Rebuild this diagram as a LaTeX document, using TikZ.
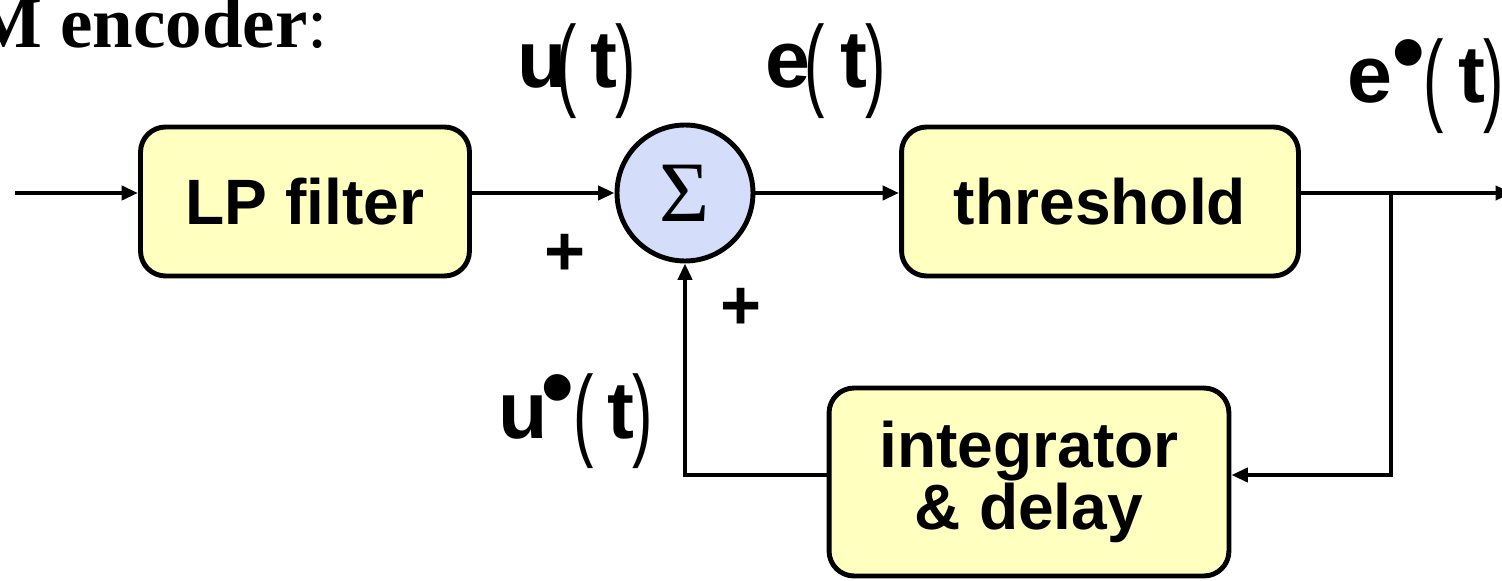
\documentclass[tikz,border=0pt]{standalone}
\usepackage{fontspec}
\setmainfont{Liberation Sans}
\newfontfamily\serifb{Liberation Serif}
\usetikzlibrary{arrows.meta,calc}
\definecolor{boxy}{RGB}{255,255,192}
\definecolor{sumblue}{RGB}{212,222,250}
\newcommand{\lblL}[1]{{\fontsize{46}{46}\selectfont\bfseries #1}}
\newcommand{\lblP}[1]{\raisebox{-5.5pt}{\scalebox{0.6}[1]{\fontsize{58}{58}\selectfont\mdseries #1}}}
\newcommand{\lblD}{\makebox[13pt][c]{\raisebox{10pt}{\fontsize{56}{56}\selectfont •}}}
\tikzset{
  x=0.02cm, y=-0.02cm,
  conn/.style={line width=2.6pt, -{Triangle[length=0.33cm,width=0.28cm]}},
  blockbox/.style={draw, line width=2.8pt, rounded corners=0.5cm, fill=boxy, align=center,
    font=\fontsize{36.5}{34}\selectfont\bfseries, inner sep=0pt},
  sumnode/.style={circle, draw, line width=2.8pt, fill=sumblue, minimum size=2.72cm, inner sep=0pt,
    font=\serifb\fontsize{49}{49}\selectfont},
  lbl/.style={anchor=base west, inner sep=0pt},
  plus/.style={inner sep=0pt, font=\fontsize{40}{40}\selectfont\bfseries},
}
\begin{document}
\begin{tikzpicture}
\useasboundingbox (0,0) rectangle (1502,581);
\node[anchor=base west, inner sep=0pt, font=\serifb\bfseries\fontsize{41.5}{41.5}\selectfont] (title) at (-27,48) {M encoder{\mdseries:}};
\node[blockbox, minimum width=6.58cm, minimum height=2.98cm] (lp) at (305,201.5) {LP filter};
\node[sumnode] (sum) at (685,193) {Σ};
\node[blockbox, minimum width=7.94cm, minimum height=2.98cm] (thr) at (1100,201.5) {threshold};
\node[blockbox, minimum width=8.0cm, minimum height=3.76cm] (int) at (1029,482) {integrator\\\& delay};
\coordinate (in) at (15,193);
\coordinate (out) at (1512,193);
\coordinate (br) at (1391,193);
\coordinate (fb) at (1391,475);
\coordinate (fc) at (685,475);
\draw[conn] (in) -- (in -| lp.west);
\draw[conn] (lp.east |- sum.west) -- (sum.west);
\draw[conn] (sum.east) -- (sum.east -| thr.west);
\draw[conn] (thr.east |- sum.east) -- (out);
\draw[conn] (br) -- (fb) -- (fb -| int.east);
\draw[conn] (fb -| int.west) -- (fc) -- (sum.south);
\node[lbl] (ut) at (517,88) {\lblL{u}\kern-6pt\lblP{(}\kern8pt\lblL{t}\kern-1pt\lblP{)}};
\node[lbl] (et) at (765,88) {\lblL{e}\kern-3.5pt\lblP{(}\kern9pt\lblL{t}\kern-1pt\lblP{)}};
\node[lbl] (eqt) at (1347,103) {\lblL{e}\kern3pt\lblD\kern1.7pt\lblP{(}\kern8.5pt\lblL{t}\kern-1pt\lblP{)}};
\node[lbl] (uqt) at (498,438) {\lblL{u}\kern-1pt\lblD\kern2.5pt\lblP{(}\kern8pt\lblL{t}\kern-1pt\lblP{)}};
\node[plus] (p1) at (565,255) {+};
\node[plus] (p2) at (741,309) {+};
\end{tikzpicture}
\end{document}
